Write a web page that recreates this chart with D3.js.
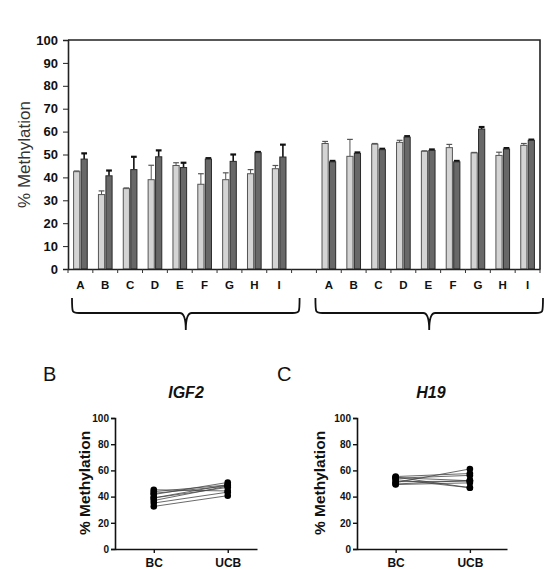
<!DOCTYPE html>
<html><head><meta charset="utf-8">
<script src="https://cdn.jsdelivr.net/npm/d3@7"></script>
<style>body{margin:0;background:#fff;} text{font-family:"Liberation Sans",Arial,sans-serif;}</style>
</head><body>
<svg id="c" width="548" height="569"></svg>
<script>
const categories = ["A","B","C","D","E","F","G","H","I"];
const groups = ["IGF2","H19"];
const series = ["BC","UCB"];
// IGF2 (left group)
const igf2BC = [42.5,32.5,35.1,39.0,45.2,37.0,39.0,41.6,43.8];
const igf2UCB = [48.0,40.7,43.4,49.0,44.3,48.0,47.0,50.8,48.9];
const igf2BCerr = [0.3,1.6,0.3,6.3,1.2,4.6,3.0,1.8,1.4];
const igf2UCBerr = [2.5,2.3,5.6,2.8,2.1,0.4,3.0,0.3,5.4];
// H19 (right group)
const h19BC = [54.8,49.2,54.5,55.3,51.4,53.0,50.7,49.6,54.0];
const h19UCB = [46.8,50.5,52.1,57.6,51.8,46.8,61.1,52.4,56.2];
const h19BCerr = [0.9,7.4,0.3,0.9,0.2,1.4,0.2,1.4,0.8];
const h19UCBerr = [0.4,0.4,0.4,0.4,0.4,0.4,0.9,0.4,0.3];
const yTicksTop = [0,10,20,30,40,50,60,70,80,90,100];
const yTicksSmall = [0,20,40,60,80,100];
const panelLetters = ["B","C"];

const svg = d3.select("#c");
const font = '"Liberation Sans",Arial,sans-serif';

// ---------- Top chart ----------
const L = 68, R = 540, T = 40, B = 269;
const slots = [...categories.map(c=>"L-"+c), "gap", ...categories.map(c=>"R-"+c)];
const x = d3.scaleBand().domain(slots).range([L,R]).paddingInner(0).paddingOuter(0);
const xi = d3.scaleBand().domain(series).range([0,x.bandwidth()]).paddingOuter(0.68).paddingInner(0.04);
const y = d3.scaleLinear().domain([0,100]).range([B,T]);

const rows = [];
categories.forEach((c,i)=>{
  rows.push({slot:"L-"+c, s:"BC", v:igf2BC[i], e:igf2BCerr[i]});
  rows.push({slot:"L-"+c, s:"UCB", v:igf2UCB[i], e:igf2UCBerr[i]});
  rows.push({slot:"R-"+c, s:"BC", v:h19BC[i], e:h19BCerr[i]});
  rows.push({slot:"R-"+c, s:"UCB", v:h19UCB[i], e:h19UCBerr[i]});
});

// error bars (behind bars)
const eg = svg.append("g");
rows.forEach(d=>{
  const cx = x(d.slot)+xi(d.s)+xi.bandwidth()/2;
  const dark = d.s==="UCB";
  const col = dark ? "#111" : "#555";
  eg.append("line").attr("x1",cx).attr("x2",cx).attr("y1",y(d.v)).attr("y2",y(d.v+d.e))
    .attr("stroke",col).attr("stroke-width",dark?1.6:1);
  eg.append("line").attr("x1",cx-xi.bandwidth()*0.4).attr("x2",cx+xi.bandwidth()*0.4)
    .attr("y1",y(d.v+d.e)).attr("y2",y(d.v+d.e))
    .attr("stroke",col).attr("stroke-width",dark?2.2:1.2);
});

svg.append("g").selectAll("rect").data(rows).join("rect")
  .attr("x",d=>x(d.slot)+xi(d.s)+0.5)
  .attr("width",xi.bandwidth()-1)
  .attr("y",d=>y(d.v))
  .attr("height",d=>y(0)-y(d.v))
  .attr("fill",d=>d.s==="BC"?"#d4d4d4":"#686868")
  .attr("stroke",d=>d.s==="BC"?"#555":"#2a2a2a")
  .attr("stroke-width",1);

// frame top/right
svg.append("path").attr("d",`M${L},${T}H${R}V${B}`).attr("fill","none").attr("stroke","#222").attr("stroke-width",1.6);

// y axis
const yAx = svg.append("g").attr("transform",`translate(${L},0)`)
  .call(d3.axisLeft(y).tickValues(yTicksTop).tickSize(5).tickPadding(5));
yAx.select(".domain").attr("stroke","#222").attr("stroke-width",1.6);
yAx.selectAll(".tick line").attr("stroke","#222");
yAx.selectAll("text").attr("font-family",font).attr("font-size",13).attr("font-weight","bold").attr("fill","#111");

// x axis
const xAx = svg.append("g").attr("transform",`translate(0,${B})`)
  .call(d3.axisBottom(x).tickSize(0).tickPadding(12).tickFormat(d=>d==="gap"?"":d.slice(2)));
xAx.select(".domain").attr("stroke","#222").attr("stroke-width",1.6);
xAx.selectAll("text").attr("font-family",font).attr("font-size",11.5).attr("font-weight","bold").attr("fill","#111");
const bounds = slots.map(s=>x(s)).concat([R]);
svg.append("g").selectAll("line").data(bounds).join("line")
  .attr("x1",d=>d).attr("x2",d=>d).attr("y1",B).attr("y2",B+4).attr("stroke","#333").attr("stroke-width",1);

svg.append("text").attr("transform",`translate(30,${(T+B)/2}) rotate(-90)`)
  .attr("text-anchor","middle").attr("font-size",17).attr("fill","#333").text("% Methylation");

// braces
function brace(x0,x1,y0,y1,y2){
  const xm=(x0+x1)/2;
  return `M${x0},${y0} C${x0},${y1} ${x0},${y1} ${x0+7},${y1} L${xm-6},${y1} Q${xm},${y1} ${xm},${y2} Q${xm},${y1} ${xm+6},${y1} L${x1-7},${y1} C${x1},${y1} ${x1},${y1} ${x1},${y0}`;
}
const lEnd = x("L-I")+x.bandwidth();
svg.append("path").attr("d",brace(L+4,lEnd+8,298,313,330)).attr("fill","none").attr("stroke","#111").attr("stroke-width",1.8);
svg.append("path").attr("d",brace(x("R-A")-1,R+3,298,313,330)).attr("fill","none").attr("stroke","#111").attr("stroke-width",1.8);

// ---------- Small panels ----------
const panels = [
  {letter:panelLetters[0], title:groups[0], bc:igf2BC, ucb:igf2UCB, ax:115, aw:142, letterX:43, titleX:186, labX:90, align:0.57, pad:0.46},
  {letter:panelLetters[1], title:groups[1], bc:h19BC, ucb:h19UCB, ax:357, aw:150, letterX:277, titleX:431, labX:325, align:0.51, pad:0.51}
];
panels.forEach(p=>{
  const g = svg.append("g");
  const ys = d3.scaleLinear().domain([0,100]).range([549,418]);
  const xs = d3.scalePoint().domain(series).range([p.ax,p.ax+p.aw]).padding(p.pad).align(p.align);
  g.append("text").attr("x",p.letterX).attr("y",381).attr("font-size",20).attr("fill","#111").text(p.letter);
  g.append("text").attr("x",p.titleX).attr("y",398).attr("text-anchor","middle").attr("font-size",16)
    .attr("font-weight","bold").attr("font-style","italic").attr("fill","#111").text(p.title);
  const ya = g.append("g").attr("transform",`translate(${p.ax},0)`)
    .call(d3.axisLeft(ys).tickValues(yTicksSmall).tickSize(4).tickPadding(2));
  ya.select(".domain").attr("stroke","#111").attr("stroke-width",1.6);
  ya.selectAll(".tick line").attr("stroke","#111").attr("stroke-width",1.4);
  ya.selectAll("text").attr("font-family",font).attr("font-size",10).attr("font-weight","bold").attr("fill","#111");
  const xa = g.append("g").attr("transform",`translate(0,549)`)
    .call(d3.axisBottom(xs).tickSize(4).tickPadding(5).tickSizeOuter(0));
  xa.select(".domain").attr("stroke","#111").attr("stroke-width",1.6);
  xa.selectAll(".tick line").attr("stroke","#111").attr("stroke-width",1.4);
  xa.selectAll("text").attr("font-family",font).attr("font-size",12).attr("font-weight","bold").attr("fill","#111");
  g.append("text").attr("transform",`translate(${p.labX},483) rotate(-90)`).attr("text-anchor","middle")
    .attr("font-size",15.5).attr("font-weight","bold").attr("fill","#111").text("% Methylation");
  const pairs = p.bc.map((v,i)=>({a:v,b:p.ucb[i]}));
  g.append("g").selectAll("line").data(pairs).join("line")
    .attr("x1",xs("BC")).attr("x2",xs("UCB")).attr("y1",d=>ys(d.a)).attr("y2",d=>ys(d.b))
    .attr("stroke","#444").attr("stroke-width",0.8);
  pairs.forEach(d=>{
    g.append("circle").attr("cx",xs("BC")).attr("cy",ys(d.a)).attr("r",3.3).attr("fill","#000");
    g.append("circle").attr("cx",xs("UCB")).attr("cy",ys(d.b)).attr("r",3.3).attr("fill","#000");
  });
});
</script>
</body></html>
